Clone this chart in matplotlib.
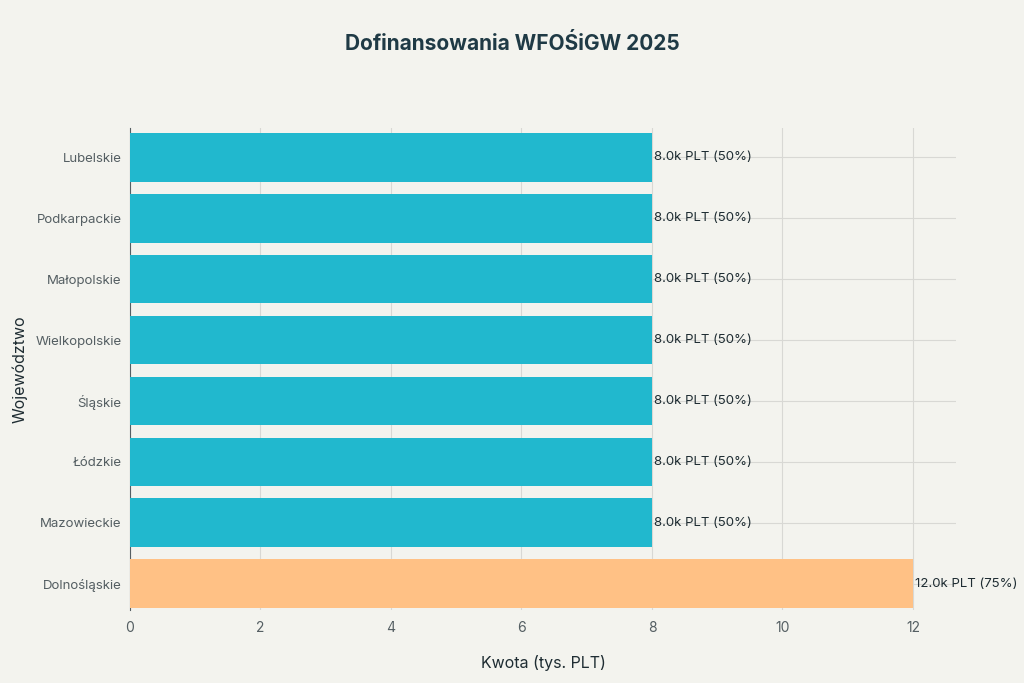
import matplotlib
matplotlib.use("Agg")
import matplotlib.pyplot as plt

regions = ["Dolnośląskie", "Mazowieckie", "Łódzkie", "Śląskie", "Wielkopolskie", "Małopolskie", "Podkarpackie", "Lubelskie"]
amounts = [12.0, 8.0, 8.0, 8.0, 8.0, 8.0, 8.0, 8.0]
percents = [75, 50, 50, 50, 50, 50, 50, 50]
colors = ["#FFC185"] + ["#21B8CE"] * 7

plt.rcParams["font.family"] = "Inter"
bg = "#F3F3EE"
fig = plt.figure(figsize=(10.24, 6.83), dpi=100, facecolor=bg)
ax = fig.add_axes([130/1024, 1-610/683, (956-130)/1024, (610-128)/683], facecolor=bg)

y = range(len(regions))
ax.barh(y, amounts, height=0.8, color=colors, zorder=3)
for i, (a, p) in enumerate(zip(amounts, percents)):
    ax.text(a + 0.03, i, f"{a:.1f}k PLT ({p}%)", va="center", ha="left", fontsize=9.5, color="#1F2D33", zorder=4)

ax.set_xlim(0, 12.66)
ax.set_ylim(-0.43, 7.48)
ax.set_yticks(list(y))
ax.set_yticklabels(regions, fontsize=9.5, color="#555F63")
ax.set_xticks([0, 2, 4, 6, 8, 10, 12])
ax.tick_params(axis="x", labelsize=10, colors="#555F63", length=0, pad=8)
ax.tick_params(axis="y", length=0, pad=6)
ax.grid(True, color="#D8D8D4", linewidth=0.8, zorder=0)
for s in ["top", "right", "bottom"]:
    ax.spines[s].set_visible(False)
ax.spines["left"].set_color("#555F63")
ax.set_xlabel("Kwota (tys. PLT)", fontsize=11.5, color="#1F2D33", labelpad=14)
ax.set_ylabel("Województwo", fontsize=11.5, color="#1F2D33", labelpad=6)
fig.text(0.5, 1-44/683, "Dofinansowania WFOŚiGW 2025", ha="center", va="center", fontsize=15, fontweight="bold", color="#1F3A45")

fig.savefig("out.png", dpi=100, facecolor=bg)
